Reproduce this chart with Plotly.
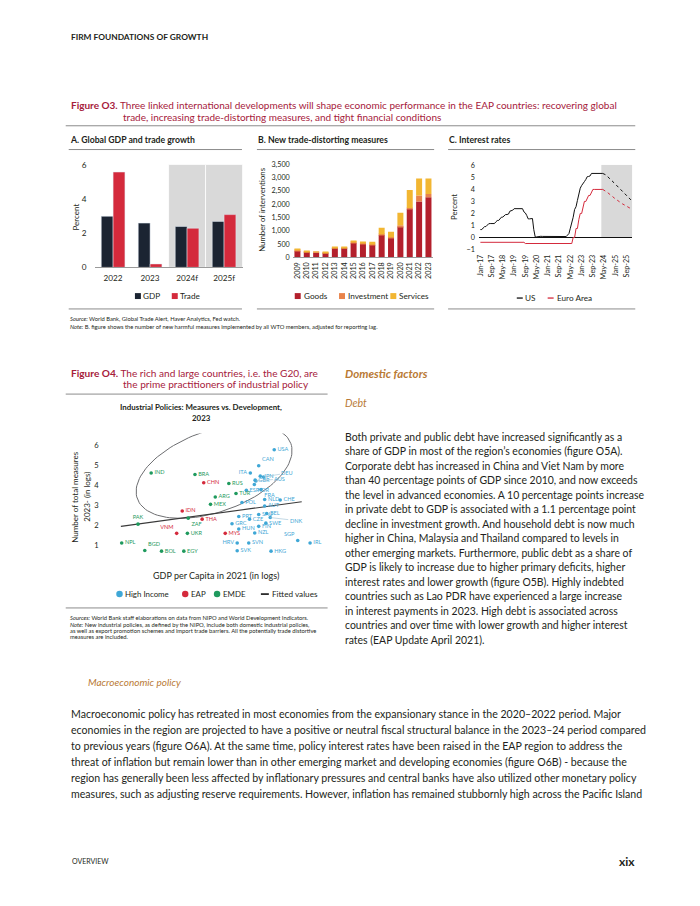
import math

import pandas as pd
import plotly.graph_objects as go

W, H = 700, 906
FONT = "Lato"
INK = "#231f20"
CRIMSON = "#a6203b"
ORANGE = "#b97a35"
RULE = "#8c8c8c"
NAVY = "#1b2432"
RED = "#d42a3c"
BLUE = "#3fa7d6"
GREEN = "#1f9a5e"


def px(x):
    return x / W


def py(y):
    return 1 - y / H


# ---------------- data ----------------
# Figure O3 A: global GDP and trade growth (percent)
gdp_years = ["2022", "2023", "2024f", "2025f"]
gdp_growth = [3.0, 2.6, 2.4, 2.7]
trade_growth = [5.6, 0.2, 2.3, 3.1]

# Figure O3 B: new trade-distorting measures (number of interventions)
tdm_years = ["2009", "2010", "2011", "2012", "2013", "2014", "2015", "2016",
             "2017", "2018", "2019", "2020", "2021", "2022", "2023"]
tdm_goods = [240, 215, 190, 180, 355, 365, 545, 505, 470, 845, 740, 1165, 1830, 2100, 2265]
tdm_investment = [40, 5, 5, 5, 10, 10, 30, 40, 50, 30, 20, 50, 30, 225, 120]
tdm_services = [30, 25, 5, 5, 15, 25, 55, 40, 75, 240, 205, 465, 675, 645, 585]

# Figure O3 C: policy interest rates (percent), monthly
rate_dates = pd.date_range("2017-01-01", "2024-04-01", freq="MS")
us_rate = [0.66, 0.66, 0.79, 0.90, 0.91, 1.04, 1.15, 1.16, 1.15, 1.15, 1.16, 1.30,
           1.41, 1.42, 1.51, 1.69, 1.70, 1.82, 1.91, 1.91, 1.95, 2.19, 2.20, 2.27,
           2.40, 2.40, 2.41, 2.42, 2.39, 2.38, 2.40, 2.13, 2.04, 1.83, 1.55, 1.55,
           1.55, 1.58, 0.65, 0.05, 0.05, 0.08, 0.09, 0.10, 0.09, 0.09, 0.09, 0.09,
           0.09, 0.08, 0.07, 0.07, 0.06, 0.08, 0.10, 0.09, 0.08, 0.08, 0.08, 0.08,
           0.08, 0.08, 0.20, 0.33, 0.77, 1.21, 1.68, 2.33, 2.56, 3.08, 3.78, 4.10,
           4.33, 4.57, 4.65, 4.83, 5.06, 5.08, 5.12, 5.33, 5.33, 5.33, 5.33, 5.33,
           5.33, 5.33, 5.33, 5.33]
euro_rate = [-0.40] * 12 + [-0.40] * 12 + \
    [-0.40, -0.40, -0.40, -0.40, -0.40, -0.40, -0.40, -0.40, -0.50, -0.50, -0.50, -0.50] + \
    [-0.50] * 12 + [-0.50] * 12 + \
    [-0.50, -0.50, -0.50, -0.50, -0.50, -0.50, 0.00, 0.00, 0.75, 0.75, 1.50, 2.00] + \
    [2.00, 2.50, 3.00, 3.00, 3.25, 3.50, 3.50, 3.75, 4.00, 4.00, 4.00, 4.00] + \
    [4.00, 4.00, 4.00, 4.00]
fcst_dates = pd.date_range("2024-04-01", "2025-12-01", freq="MS")
us_fcst = [5.33, 5.30, 5.22, 5.12, 5.02, 4.90, 4.78, 4.66, 4.55, 4.43, 4.31,
           4.19, 4.07, 3.95, 3.83, 3.71, 3.59, 3.47, 3.35, 3.24, 3.13]
euro_fcst = [4.00, 3.95, 3.85, 3.78, 3.70, 3.60, 3.50, 3.40, 3.30, 3.20, 3.12,
             3.04, 2.96, 2.88, 2.80, 2.73, 2.66, 2.59, 2.52, 2.46, 2.40]
fcst_start = "2024-03-01"

# Figure O4: industrial policy measures vs GDP per capita (both in logs)
countries = ["USA", "CAN", "ITA", "JPN", "DEU", "GBR", "AUS", "KOR", "ESP", "FRA",
             "CHE", "NLD", "AUT", "POL", "PRT", "SAU", "BEL", "CZE", "DNK", "SWE",
             "GRC", "HUN", "FIN", "NZL", "SGP", "IRL", "HRV", "SVN", "SVK", "HKG",
             "CHN", "IDN", "THA", "VNM", "MYS",
             "IND", "BRA", "RUS", "TUR", "ARG", "MEX", "ZAF", "UKR", "PAK", "NPL",
             "BGD", "BOL", "EGY"]
gdp_pc_log = [10.81, 10.42, 10.21, 10.46, 10.54, 10.33, 10.35, 10.31, 10.11, 10.48,
              10.96, 10.57, 10.57, 10.00, 9.92, 10.42, 10.62, 10.19, 10.71, 10.60,
              9.75, 9.92, 10.42, 10.32, 11.40, 11.71, 9.88, 10.17, 9.88, 10.73,
              9.04, 8.50, 9.00, 8.36, 9.58,
              7.72, 8.82, 9.67, 9.85, 9.33, 9.21, 8.65, 8.63, 7.39, 6.98,
              7.56, 7.98, 8.54]
measures_log = [5.79, 4.99, 4.63, 4.47, 4.43, 4.27, 4.23, 4.05, 3.76, 3.80,
                3.28, 3.30, 2.98, 3.15, 2.45, 2.55, 2.60, 2.32, 2.40, 2.12,
                2.09, 1.83, 1.96, 1.63, 1.25, 1.13, 1.13, 1.13, 0.74, 0.72,
                4.14, 2.73, 2.32, 1.61, 1.61,
                4.63, 4.55, 4.10, 3.60, 3.43, 3.06, 2.37, 1.61, 2.07, 1.13,
                0.75, 0.72, 0.72]
income_group = ["High Income"] * 30 + ["EAP"] * 5 + ["EMDE"] * 13
fit_x = [6.96, 11.50]
fit_y = [1.96, 3.19]

# ---------------- figure ----------------
fig = go.Figure()

# panel A
fig.add_trace(go.Bar(x=gdp_years, y=gdp_growth, marker_color=NAVY, xaxis="x", yaxis="y"))
fig.add_trace(go.Bar(x=gdp_years, y=trade_growth, marker_color=RED, xaxis="x", yaxis="y"))

# panel B (stacked by hand inside one offset group)
inv_base = list(tdm_goods)
srv_base = [g + i for g, i in zip(tdm_goods, tdm_investment)]
for vals, base, col in [(tdm_goods, None, "#b3202c"),
                        (tdm_investment, inv_base, "#e8834a"),
                        (tdm_services, srv_base, "#f2b632")]:
    fig.add_trace(go.Bar(x=tdm_years, y=vals, base=base, marker_color=col,
                         offsetgroup="tdm", marker_line_width=0, xaxis="x2", yaxis="y2"))

# panel C
fig.add_trace(go.Scatter(x=rate_dates, y=us_rate, mode="lines", line=dict(color="#111111", width=1),
                         xaxis="x3", yaxis="y3"))
fig.add_trace(go.Scatter(x=rate_dates, y=euro_rate, mode="lines", line=dict(color=RED, width=1),
                         xaxis="x3", yaxis="y3"))
fig.add_trace(go.Scatter(x=fcst_dates, y=us_fcst, mode="lines",
                         line=dict(color="#111111", width=1, dash="dot"), xaxis="x3", yaxis="y3"))
fig.add_trace(go.Scatter(x=fcst_dates, y=euro_fcst, mode="lines",
                         line=dict(color=RED, width=1, dash="dot"), xaxis="x3", yaxis="y3"))

# scatter: ellipse around the G20 cloud (centre in data units, semi axes in px, tilt)
ell_cx, ell_cy, ell_a, ell_b, ell_rot = 9.3, 4.72, 82, 41, math.radians(20)
sx, sy = 40.0, 20.2  # px per data unit on x4 / y4
ts = [2 * math.pi * k / 120 for k in range(121)]
ell_x = [ell_cx + (ell_a * math.cos(t) * math.cos(ell_rot) - ell_b * math.sin(t) * math.sin(ell_rot)) / sx for t in ts]
ell_y = [ell_cy + (ell_a * math.cos(t) * math.sin(ell_rot) + ell_b * math.sin(t) * math.cos(ell_rot)) / sy for t in ts]
fig.add_trace(go.Scatter(x=ell_x, y=ell_y, mode="lines", line=dict(color="#6d6e71", width=1),
                         hoverinfo="skip", cliponaxis=False, xaxis="x4", yaxis="y4"))
fig.add_trace(go.Scatter(x=fit_x, y=fit_y, mode="lines", line=dict(color="#3a3a3a", width=1.2),
                         xaxis="x4", yaxis="y4"))

label_pos = {"ITA": "middle left", "VNM": "top left", "PAK": "top center", "BGD": "top right",
             "HRV": "middle left", "CAN": "top right", "ZAF": "bottom right", "FRA": "bottom right",
             "SGP": "top left", "KOR": "bottom right"}
leader = {"DEU": (24, -4), "AUS": (24, -2), "DNK": (26, 3)}
group_color = {"High Income": BLUE, "EAP": RED, "EMDE": GREEN}
for grp, col in group_color.items():
    idx = [i for i, g in enumerate(income_group) if g == grp]
    fig.add_trace(go.Scatter(
        x=[gdp_pc_log[i] for i in idx], y=[measures_log[i] for i in idx],
        mode="markers+text",
        text=["" if countries[i] in leader else countries[i] for i in idx],
        textposition=[label_pos.get(countries[i], "middle right") for i in idx],
        textfont=dict(size=5.6, color=col, family=FONT),
        marker=dict(size=3.6, color=col), cliponaxis=False,
        xaxis="x4", yaxis="y4"))
for c, (ax, ay) in leader.items():
    i = countries.index(c)
    fig.add_annotation(x=gdp_pc_log[i], y=measures_log[i], xref="x4", yref="y4", text=c,
                       showarrow=True, arrowhead=0, arrowwidth=0.6, arrowcolor="#9bbfd4",
                       ax=ax, ay=ay, font=dict(size=5.6, color=BLUE, family=FONT))

tick_small = dict(family=FONT, size=7.2, color=INK)
fig.update_layout(
    width=W, height=H, margin=dict(l=0, r=0, t=0, b=0),
    paper_bgcolor="white", plot_bgcolor="white", showlegend=False,
    barmode="group", bargap=0.36, bargroupgap=0,
    font=dict(family=FONT, color=INK),
    xaxis=dict(domain=[px(92), px(241)], anchor="y", type="category", showgrid=False,
               showline=True, linecolor="#9a9a9a", linewidth=1, ticks="",
               tickfont=dict(family=FONT, size=8.2, color=INK), ticklabelstandoff=3),
    yaxis=dict(domain=[py(266), py(162)], anchor="x", range=[0, 6.05], dtick=2, showgrid=False,
               zeroline=False, showline=False, ticks="",
               tickfont=dict(family=FONT, size=8.2, color=INK), ticklabelstandoff=7),
    xaxis2=dict(domain=[px(291), px(432)], anchor="y2", type="category", showgrid=False,
                showline=True, linecolor="#9a9a9a", linewidth=0.8, ticks="", tickangle=-90,
                tickfont=tick_small, ticklabelstandoff=1),
    yaxis2=dict(domain=[py(256), py(159)], anchor="x2", range=[0, 3610], dtick=500,
                tickformat=",", showgrid=False, zeroline=False, ticks="",
                tickfont=tick_small, ticklabelstandoff=2),
    xaxis3=dict(domain=[px(478), px(632)], anchor="y3", type="date",
                range=["2016-12-01", "2025-12-31"], tick0="2017-01-01", dtick="M8",
                tickformat="%b-%y", tickangle=-90, showgrid=False, showline=False, ticks="",
                tickfont=tick_small, ticklabelstandoff=1),
    yaxis3=dict(domain=[py(249.8), py(162.4)], anchor="x3", range=[-1.15, 6.05], dtick=1,
                showgrid=False, zeroline=True, zerolinecolor="#111111", zerolinewidth=1,
                ticks="", tickfont=tick_small, ticklabelstandoff=3),
    xaxis4=dict(domain=[px(100), px(320)], anchor="y4", range=[6.5, 12.0], showgrid=False,
                zeroline=False, showline=False, showticklabels=False, ticks=""),
    yaxis4=dict(domain=[py(561.1), py(433.9)], anchor="x4", range=[0.3, 6.6], dtick=1,
                showgrid=False, zeroline=False, showline=False, ticks="",
                tickfont=dict(family=FONT, size=7.6, color=INK), ticklabelstandoff=3),
)

shapes = []


def rule(x0, x1, y, color=RULE, width=1):
    shapes.append(dict(type="line", xref="paper", yref="paper", x0=px(x0), x1=px(x1),
                       y0=py(y), y1=py(y), line=dict(color=color, width=width)))


def swatch(x, y, color, s=6):
    shapes.append(dict(type="rect", xref="paper", yref="paper", x0=px(x - s / 2), x1=px(x + s / 2),
                       y0=py(y + s / 2), y1=py(y - s / 2), fillcolor=color, line=dict(width=0)))


def dot(x, y, color, s=6.5):
    shapes.append(dict(type="circle", xref="paper", yref="paper", x0=px(x - s / 2), x1=px(x + s / 2),
                       y0=py(y + s / 2), y1=py(y - s / 2), fillcolor=color, line=dict(width=0)))


def dash(x0, x1, y, color, width=1.3):
    rule(x0, x1, y, color=color, width=width)


def txt(x, y, s, size, color=INK, bold=False, italic=False, anchor="left", angle=0):
    fig.add_annotation(x=px(x), y=py(y), xref="paper", yref="paper", text=s, showarrow=False,
                       xanchor=anchor, yanchor="middle", textangle=angle, borderpad=0,
                       font=dict(family=FONT, size=size, color=color,
                                 weight="bold" if bold else "normal",
                                 style="italic" if italic else "normal"))


# forecast shading
for x0, x1 in [(1.5, 2.5), (2.5, 3.5)]:
    shapes.append(dict(type="rect", xref="x", yref="y", x0=x0, x1=x1, y0=0, y1=6.05,
                       fillcolor="#d9d9d9", line=dict(color="white", width=0.8), layer="below"))
shapes.append(dict(type="rect", xref="x3", yref="y3", x0=fcst_start, x1="2025-12-31", y0=0, y1=6.05,
                   fillcolor="#d9d9d9", line=dict(width=0), layer="below"))

# page header
txt(67, 33, "FIRM FOUNDATIONS OF GROWTH", 8.4, bold=True)

# Figure O3 title
txt(67, 102, "<b>Figure O3.</b> Three linked international developments will shape economic "
    "performance in the EAP countries: recovering global", 10, color=CRIMSON)
txt(120, 114, "trade, increasing trade-distorting measures, and tight financial conditions",
    10, color=CRIMSON)
rule(63, 635, 123)

# panel headers
txt(66, 137, "A. Global GDP and trade growth", 8.7, bold=True)
txt(255, 137, "B. New trade-distorting measures", 8.7, bold=True)
txt(447, 137, "C. Interest rates", 8.7, bold=True)
for a, b in [(66, 240), (255, 433), (447, 635)]:
    rule(a, b, 147)
    rule(a, b, 308)

txt(73, 215, "Percent", 8, anchor="center", angle=-90)
txt(260, 207, "Number of interventions", 7.8, anchor="center", angle=-90)
txt(453, 205, "Percent", 7.8, anchor="center", angle=-90)

# legends panel A / B / C
swatch(135.5, 295, NAVY)
txt(140, 295, "GDP", 8.2)
swatch(172.5, 295, RED)
txt(177, 295, "Trade", 8.2)
swatch(296, 295, "#b3202c")
txt(301, 295, "Goods", 8.2)
swatch(340.5, 295, "#e8834a")
txt(345, 295, "Investment", 8.2)
swatch(392, 295, "#f2b632")
txt(397, 295, "Services", 8.2)
dash(516, 522, 297, "#111111")
txt(523, 297, "US", 8.2)
dash(547, 553, 297, RED)
txt(555, 297, "Euro Area", 8.2)

txt(66, 318, "<i>Source:</i> World Bank, Global Trade Alert, Haver Analytics, Fed watch.", 5.8)
txt(66, 326, "<i>Note:</i> B. figure shows the number of new harmful measures implemented by all WTO "
    "members, adjusted for reporting lag.", 5.8)

# Figure O4
txt(67, 373, "<b>Figure O4.</b> The rich and large countries, i.e. the G20, are", 10.1, color=CRIMSON)
txt(120, 384, "the prime practitioners of industrial policy", 10.1, color=CRIMSON)
rule(63, 326, 394)
txt(199, 407, "Industrial Policies: Measures vs. Development,", 7.9, bold=True, anchor="center")
txt(199, 418, "2023", 7.9, bold=True, anchor="center")
txt(72, 498, "Number of total measures", 8, anchor="center", angle=-90)
txt(84, 498, "2023- (in logs)", 8, anchor="center", angle=-90)
txt(214, 577, "GDP per Capita in 2021 (in logs)", 9, anchor="center")

dot(117, 596, BLUE)
txt(122, 596, "High Income", 7.9)
dot(183, 596, RED)
txt(188, 596, "EAP", 7.9)
dot(215, 596, GREEN)
txt(220, 596, "EMDE", 7.9)
dash(259, 267, 596, "#111111", width=1.6)
txt(269, 596, "Fitted values", 8.2)
rule(63, 326, 610)
o4_notes = [
    "<i>Sources:</i> World Bank staff elaborations on data from NIPO and World Development Indicators.",
    "<i>Note:</i> New industrial policies, as defined by the NIPO, include both domestic industrial policies,",
    "as well as export promotion schemes and import trade barriers. All the potentially trade distortive",
    "measures are included.",
]
for i, line in enumerate(o4_notes):
    txt(66, 620 + i * 6.3, line, 5.8)

# right column text
txt(342, 373, "Domestic factors", 11.6, color=ORANGE, bold=True, italic=True)
txt(342, 403, "Debt", 10.6, color=ORANGE, italic=True)
debt_lines = [
    "Both private and public debt have increased significantly as a",
    "share of GDP in most of the region\u2019s economies (figure O5A).",
    "Corporate debt has increased in China and Viet Nam by more",
    "than 40 percentage points of GDP since 2010, and now exceeds",
    "the level in advanced economies. A 10 percentage points increase",
    "in private debt to GDP is associated with a 1.1 percentage point",
    "decline in investment growth. And household debt is now much",
    "higher in China, Malaysia and Thailand compared to levels in",
    "other emerging markets. Furthermore, public debt as a share of",
    "GDP is likely to increase due to higher primary deficits, higher",
    "interest rates and lower growth (figure O5B). Highly indebted",
    "countries such as Lao PDR have experienced a large increase",
    "in interest payments in 2023. High debt is associated across",
    "countries and over time with lower growth and higher interest",
    "rates (EAP Update April 2021).",
]
for i, line in enumerate(debt_lines):
    txt(342, 437 + i * 14.64, line, 10.45)

txt(84, 685, "Macroeconomic policy", 10, color=ORANGE, italic=True)
macro_lines = [
    "Macroeconomic policy has retreated in most economies from the expansionary stance in the 2020\u20132022 period. Major",
    "economies in the region are projected to have a positive or neutral fiscal structural balance in the 2023\u201324 period compared",
    "to previous years (figure O6A). At the same time, policy interest rates have been raised in the EAP region to address the",
    "threat of inflation but remain lower than in other emerging market and developing economies (figure O6B) - because the",
    "region has generally been less affected by inflationary pressures and central banks have also utilized other monetary policy",
    "measures, such as adjusting reserve requirements. However, inflation has remained stubbornly high across the Pacific Island",
]
for i, line in enumerate(macro_lines):
    txt(67, 717 + i * 16.2, line, 10.6)

txt(68, 866, "OVERVIEW", 7)
txt(636, 866, "xix", 12, bold=True, anchor="right")

fig.update_layout(shapes=shapes)
# the page body keeps its default 8px margin otherwise
fig.write_html("out.html", config={"displayModeBar": False},
               post_script="document.body.style.margin='0px';")
